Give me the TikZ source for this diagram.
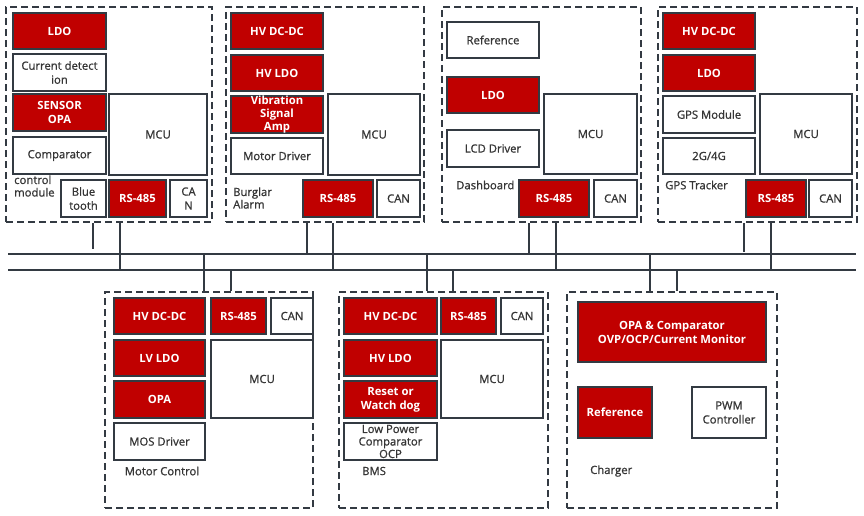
\documentclass[tikz,border=0pt]{standalone}
\usepackage{fontspec}
\setmainfont{Open Sans}
\newfontfamily\semifont[FakeBold=1]{Open Sans}
\usetikzlibrary{fit}
\definecolor{cred}{HTML}{C00000}
\definecolor{cline}{HTML}{333A42}
\definecolor{ctext}{HTML}{353535}
\newcommand\blkbox[5]{%
  \node[#1, fit={#3 #4}] (#2) {};
  \node[#1txt] (#2-t) at (#2.center) {#5};}
\begin{document}
\begin{tikzpicture}[x=1pt,y=-1pt,
  redblk/.style={draw=cline, line width=1.4pt, inner sep=0pt, fill=cred},
  whiteblk/.style={draw=cline, line width=1.4pt, inner sep=0pt, fill=white},
  redblktxt/.style={inner sep=0pt, align=center, text=white, font=\fontsize{11.3}{14}\selectfont\bfseries},
  whiteblktxt/.style={inner sep=0pt, align=center, text=ctext, font=\semifont\fontsize{11.3}{14}\selectfont},
  group/.style={draw=cline, line width=1.8pt, dash pattern=on 7pt off 4pt, inner sep=0pt},
  lbl/.style={inner sep=0pt, align=left, text=ctext, font=\semifont\fontsize{11.3}{12.5}\selectfont},
  wire/.style={draw=cline, line width=1.5pt}]
\useasboundingbox (0,0) rectangle (864,515);

% ---------- bus ----------
\coordinate (b1l) at (8,254);   \coordinate (b1r) at (856,254);
\coordinate (b2l) at (8,270);   \coordinate (b2r) at (856,270);
\draw[wire] (b1l) -- (b1r);
\draw[wire] (b2l) -- (b2r);

% ---------- Control module ----------
\node[group, fit={(6,7) (212,222)}] (cm) {};
\blkbox{redblk}{cmldo}{(13,13)}{(106,49)}{LDO}
\blkbox{whiteblk}{cmcur}{(13,54)}{(106,91)}{Current detect\\ion}
\blkbox{redblk}{cmopa}{(13,94)}{(106,131)}{SENSOR\\OPA}
\blkbox{whiteblk}{cmcmp}{(13,137)}{(106,174)}{Comparator}
\blkbox{whiteblk}{cmmcu}{(109,94)}{(207,175)}{MCU}
\blkbox{whiteblk}{cmbt}{(61,180)}{(106,217)}{Blue\\tooth}
\blkbox{redblk}{cmrs}{(109,180)}{(166,217)}{RS-485}
\blkbox{whiteblk}{cmcan}{(170,180)}{(207,217)}{CA\\N}
\node[lbl, anchor=west] (cmlbl) at (14,186) {control\\module};

% ---------- Burglar Alarm ----------
\node[group, fit={(226,7) (424,222)}] (ba) {};
\blkbox{redblk}{badc}{(231,13)}{(323,49)}{HV DC-DC}
\blkbox{redblk}{baldo}{(231,55)}{(323,91)}{HV LDO}
\node[redblk, fit={(231,96) (323,133)}] (bavib) {};
\node[redblktxt, font=\fontsize{11.3}{13.3}\selectfont\bfseries] (bavib-t) at (bavib.center) {Vibration\\Signal\\Amp};
\blkbox{whiteblk}{bamot}{(231,138)}{(323,174)}{Motor Driver}
\blkbox{whiteblk}{bamcu}{(328,94)}{(420,175)}{MCU}
\blkbox{redblk}{bars}{(303,180)}{(373,217)}{RS-485}
\blkbox{whiteblk}{bacan}{(377,180)}{(420,217)}{CAN}
\node[lbl, anchor=west] (balbl) at (233,198) {Burglar\\Alarm};

% ---------- Dashboard ----------
\node[group, fit={(442,7) (641,222)}] (db) {};
\blkbox{whiteblk}{dbref}{(447,22)}{(539,58)}{Reference}
\blkbox{redblk}{dbldo}{(447,77)}{(539,113)}{LDO}
\blkbox{whiteblk}{dblcd}{(447,130)}{(539,167)}{LCD Driver}
\blkbox{whiteblk}{dbmcu}{(544,94)}{(637,174)}{MCU}
\blkbox{redblk}{dbrs}{(519,180)}{(589,217)}{RS-485}
\blkbox{whiteblk}{dbcan}{(594,180)}{(637,217)}{CAN}
\node[lbl, anchor=west] (dblbl) at (456,185) {Dashboard};

% ---------- GPS Tracker ----------
\node[group, fit={(658,7) (857,222)}] (gp) {};
\blkbox{redblk}{gpdc}{(663,13)}{(755,49)}{HV DC-DC}
\blkbox{redblk}{gpldo}{(663,55)}{(755,91)}{LDO}
\blkbox{whiteblk}{gpgps}{(663,96)}{(755,133)}{GPS Module}
\blkbox{whiteblk}{gpg4}{(663,138)}{(755,174)}{2G/4G}
\blkbox{whiteblk}{gpmcu}{(760,94)}{(852,174)}{MCU}
\blkbox{redblk}{gprs}{(746,180)}{(806,217)}{RS-485}
\blkbox{whiteblk}{gpcan}{(809,180)}{(852,217)}{CAN}
\node[lbl, anchor=west] (gplbl) at (665,185) {GPS Tracker};

% ---------- Motor Control ----------
\node[group, fit={(105,292) (313,508)}] (mc) {};
\blkbox{redblk}{mcdc}{(114,298)}{(205,334)}{HV DC-DC}
\blkbox{redblk}{mcrs}{(211,298)}{(266,334)}{RS-485}
\blkbox{whiteblk}{mccan}{(271,298)}{(313,334)}{CAN}
\blkbox{redblk}{mcldo}{(114,340)}{(205,376)}{LV LDO}
\blkbox{redblk}{mcopa}{(114,381)}{(205,418)}{OPA}
\blkbox{whiteblk}{mcmos}{(114,423)}{(205,460)}{MOS Driver}
\blkbox{whiteblk}{mcmcu}{(211,340)}{(313,418)}{MCU}
\node[lbl] (mclbl) at (162,471) {Motor Control};

% ---------- BMS ----------
\node[group, fit={(339,292) (548,508)}] (bm) {};
\blkbox{redblk}{bmdc}{(344,298)}{(437,334)}{HV DC-DC}
\blkbox{redblk}{bmrs}{(441,298)}{(496,334)}{RS-485}
\blkbox{whiteblk}{bmcan}{(501,298)}{(543,334)}{CAN}
\blkbox{redblk}{bmldo}{(344,340)}{(437,376)}{HV LDO}
\blkbox{redblk}{bmrst}{(344,381)}{(437,418)}{Reset or\\Watch dog}
\node[whiteblk, fit={(344,423) (437,460)}] (bmlpc) {};
\node[whiteblktxt, font=\semifont\fontsize{11.3}{12.5}\selectfont] (bmlpc-t) at (bmlpc.center) {Low Power\\Comparator\\OCP};
\blkbox{whiteblk}{bmmcu}{(441,340)}{(543,418)}{MCU}
\node[lbl, anchor=west] (bmlbl) at (362,471) {BMS};

% ---------- Charger ----------
\node[group, fit={(567,292) (777,508)}] (ch) {};
\blkbox{redblk}{chopa}{(578,302)}{(766,362)}{OPA \& Comparator\\OVP/OCP/Current Monitor}
\blkbox{redblk}{chref}{(578,387)}{(652,438)}{Reference}
\blkbox{whiteblk}{chpwm}{(692,387)}{(766,438)}{PWM\\Controller}
\node[lbl, anchor=west] (chlbl) at (590,471) {Charger};

% ---------- taps ----------
\coordinate (t1) at (93,249);
\coordinate (t2) at (120,270);
\coordinate (t3) at (307,254);
\coordinate (t4) at (333,270);
\coordinate (t5) at (529,254);
\coordinate (t6) at (556,270);
\coordinate (t7) at (744,252);
\coordinate (t8) at (771,270);
\draw[wire] (cm.south -| t1) -- (t1);
\draw[wire] (cm.south -| t2) -- (t2);
\draw[wire] (ba.south -| t3) -- (t3);
\draw[wire] (ba.south -| t4) -- (t4);
\draw[wire] (db.south -| t5) -- (t5);
\draw[wire] (db.south -| t6) -- (t6);
\draw[wire] (gp.south -| t7) -- (t7);
\draw[wire] (gp.south -| t8) -- (t8);

\coordinate (u1) at (204,254);
\coordinate (u2) at (231,270);
\coordinate (u3) at (427,254);
\coordinate (u4) at (453,270);
\coordinate (u5) at (650,254);
\coordinate (u6) at (677,270);
\draw[wire] (u1) -- (mc.north -| u1);
\draw[wire] (u2) -- (mc.north -| u2);
\draw[wire] (u3) -- (bm.north -| u3);
\draw[wire] (u4) -- (bm.north -| u4);
\draw[wire] (u5) -- (ch.north -| u5);
\draw[wire] (u6) -- (ch.north -| u6);
\end{tikzpicture}
\end{document}
